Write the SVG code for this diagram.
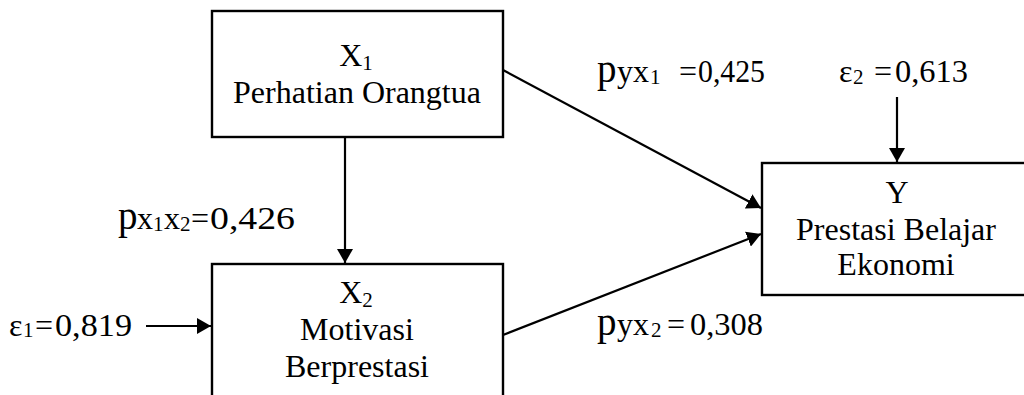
<svg xmlns="http://www.w3.org/2000/svg" width="1024" height="395" viewBox="0 0 1024 395">
  <defs>
    <style>
      text { font-family: "Liberation Serif", "Times New Roman", serif; fill: #000; }
      .node { fill: #fff; stroke: #000; stroke-width: 2.4; }
      .lbl { font-size: 32px; text-anchor: middle; }
      .eq { font-size: 32px; }
      .big { font-size: 39px; }
      .sub { font-size: 21px; }
      .edge { stroke: #000; stroke-width: 2.2; fill: none; marker-end: url(#arrow); }
    </style>
    <marker id="arrow" viewBox="0 0 14 16" refX="14" refY="8" markerWidth="14" markerHeight="16" markerUnits="userSpaceOnUse" orient="auto">
      <path d="M0,0 L14,8 L0,16 Z" fill="#000"/>
    </marker>
  </defs>

  <rect width="1024" height="395" fill="#fff"/>

  <!-- connectors -->
  <g id="connectors">
    <line class="edge" x1="345" y1="137" x2="345" y2="263"/>
    <line class="edge" x1="503" y1="70" x2="761" y2="208"/>
    <line class="edge" x1="503" y1="335" x2="761" y2="234"/>
    <line class="edge" x1="897" y1="97" x2="897" y2="162"/>
    <line class="edge" x1="146" y1="326" x2="211" y2="326"/>
  </g>

  <!-- path coefficient and error labels -->
  <g id="labels">
    <text y="82"><tspan class="big" x="597">p</tspan><tspan class="eq" x="617">yx</tspan><tspan class="sub" x="650" dy="2">1</tspan><tspan class="eq" x="679" dy="-2">=</tspan><tspan class="eq" x="698" textLength="67" lengthAdjust="spacingAndGlyphs">0,425</tspan></text>
    <text y="82"><tspan class="eq" x="839">ε</tspan><tspan class="sub" x="853" dy="2">2</tspan><tspan class="eq" x="874" dy="-2">=</tspan><tspan class="eq" x="895" textLength="73" lengthAdjust="spacingAndGlyphs">0,613</tspan></text>
    <text y="229"><tspan class="big" x="118">p</tspan><tspan class="eq" x="137">x</tspan><tspan class="sub" x="153" dy="2">1</tspan><tspan class="eq" x="164" dy="-2">x</tspan><tspan class="sub" x="180" dy="2">2</tspan><tspan class="eq" x="191" dy="-2">=</tspan><tspan class="eq" x="210" textLength="85" lengthAdjust="spacingAndGlyphs">0,426</tspan></text>
    <text y="335"><tspan class="big" x="597">p</tspan><tspan class="eq" x="617">yx</tspan><tspan class="sub" x="651" dy="2">2</tspan><tspan class="eq" x="667" dy="-2">=</tspan><tspan class="eq" x="690" textLength="73" lengthAdjust="spacingAndGlyphs">0,308</tspan></text>
    <text y="336"><tspan class="eq" x="9">ε</tspan><tspan class="sub" x="23" dy="1">1</tspan><tspan class="eq" x="35" dy="-1">=</tspan><tspan class="eq" x="55" textLength="77" lengthAdjust="spacingAndGlyphs">0,819</tspan></text>
  </g>

  <!-- X1 -->
  <g id="node-x1">
    <rect class="node" x="212" y="11" width="291" height="126"/>
    <text class="lbl" x="356" y="66">X<tspan class="sub" dy="4">1</tspan></text>
    <text class="lbl" x="357" y="103">Perhatian Orangtua</text>
  </g>

  <!-- X2 -->
  <g id="node-x2">
    <rect class="node" x="212" y="264" width="291" height="150"/>
    <text class="lbl" x="356" y="303">X<tspan class="sub" dy="4">2</tspan></text>
    <text class="lbl" x="357" y="340">Motivasi</text>
    <text class="lbl" x="357" y="377">Berprestasi</text>
  </g>

  <!-- Y -->
  <g id="node-y">
    <rect class="node" x="762" y="163" width="280" height="132"/>
    <text class="lbl" x="897" y="203">Y</text>
    <text class="lbl" x="896" y="240">Prestasi Belajar</text>
    <text class="lbl" x="896" y="275">Ekonomi</text>
  </g>
</svg>
